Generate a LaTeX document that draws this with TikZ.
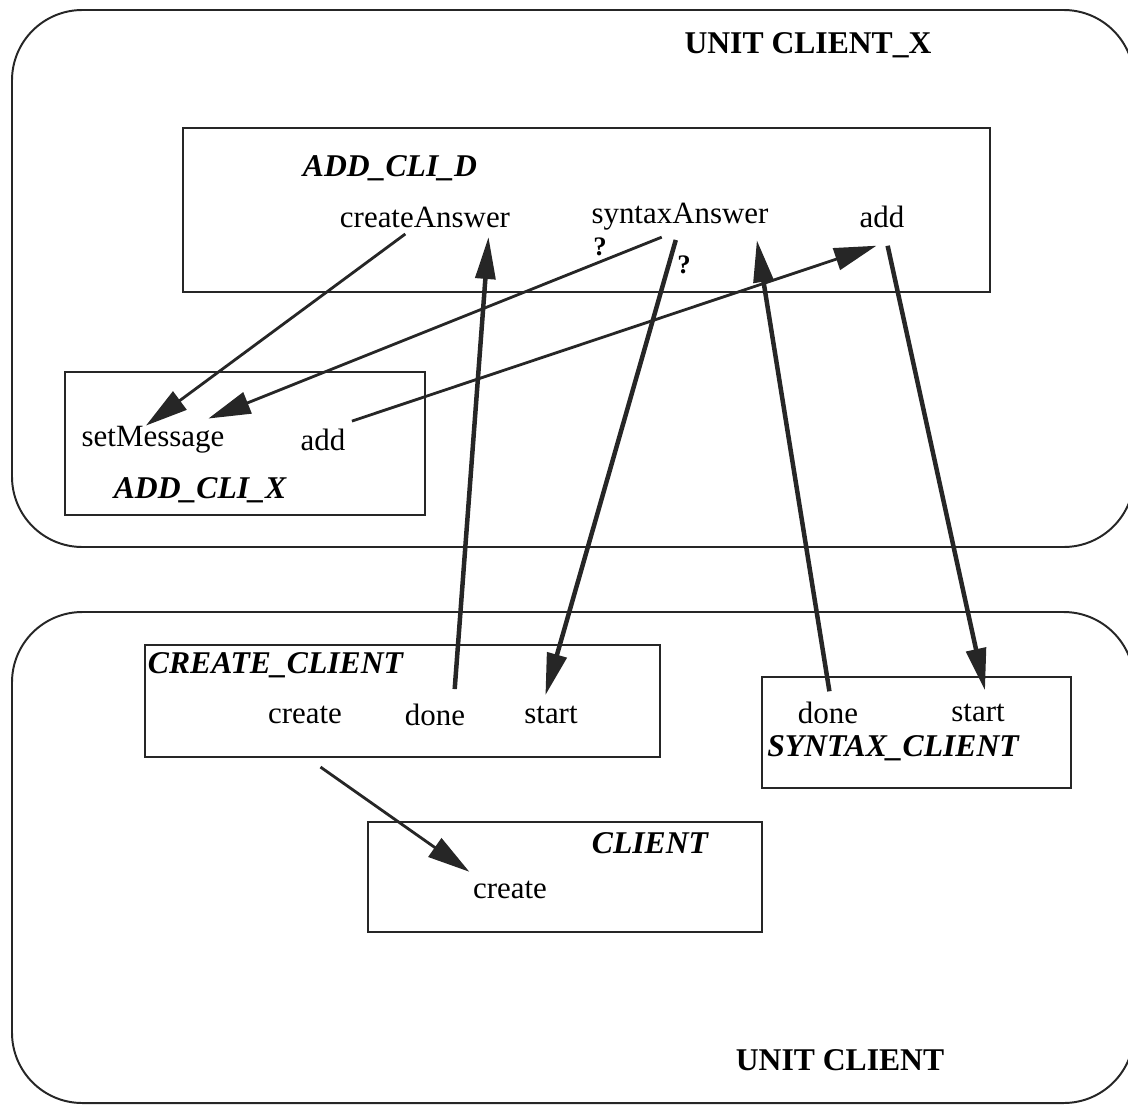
\documentclass[tikz,border=0pt]{standalone}
\usepackage{fontspec}
\setmainfont{Liberation Serif}
\usetikzlibrary{arrows.meta}

\tikzset{
	unit/.style={draw=black!85, line width=1.4pt, rounded corners=50},
	box/.style={draw=black!85, line width=1.3pt},
	port/.style={font=\fontsize{22}{25}\selectfont, inner sep=0.5pt},
	title/.style={font=\fontsize{22.5}{26}\selectfont\bfseries\itshape, inner sep=0.5pt},
	unitname/.style={font=\fontsize{22.5}{26}\selectfont\bfseries, inner sep=1pt},
	quest/.style={font=\fontsize{19}{22}\selectfont\bfseries, inner sep=0pt},
	msg/.style={draw=black!85, line width=2pt, -{Triangle[length=30pt, width=16pt]}},
	msgthick/.style={draw=black!85, line width=3.2pt, -{Triangle[length=30pt, width=14pt]}}
}

\begin{document}
\begin{tikzpicture}[x=0.025cm, y=-0.025cm]
			\useasboundingbox (0, 0) rectangle (1128, 1104);
			\begin{scope}
				\clip (0, 0) rectangle (1128, 1104);
				\draw[unit] (12, 10) rectangle (1134, 547);
				\draw[unit] (12, 612) rectangle (1134, 1103);
			\end{scope}
			\node[unitname](UX) at (808, 45){UNIT CLIENT\_X};
			\node[unitname](UC) at (840, 1060){UNIT CLIENT};
			\draw[box] (183, 128) rectangle (990, 292);
			\node[title](TD) at (390, 168){ADD\_CLI\_D};
			\node[port](dCrA) at (425, 217){createAnswer};
			\node[port](dSyn) at (680, 217){syntaxAnswer};
			\node[port](dAdd) at (882, 217){add};
			\draw[box] (65, 372) rectangle (425, 515);
			\node[port](xSet) at (153, 440){setMessage};
			\node[port](xAdd) at (323, 440){add};
			\node[title](TX) at (200, 490){ADD\_CLI\_X};
			\draw[box] (145, 645) rectangle (660, 757);
			\node[title, anchor=west](TC) at (147, 665){CREATE\_CLIENT};
			\node[port](cCre) at (305, 715){create};
			\node[port](cDone) at (435, 715){done};
			\node[port](cStart) at (551, 715){start};
			\draw[box] (762, 677) rectangle (1071, 788);
			\node[port](sDone) at (828, 713){done};
			\node[port](sStart) at (978, 713){start};
			\node[title](TS) at (893, 748){SYNTAX\_CLIENT};
			\draw[box] (368, 822) rectangle (762, 932);
			\node[title](TCl) at (650, 843){CLIENT};
			\node[port](clCre) at (510, 890){create};
			\draw[msg] ([xshift=-14pt, yshift=-4pt]dCrA.south) -- ([xshift=-5pt]xSet.north);
			\draw[msg] ([xshift=-13pt, yshift=-4pt]dSyn.south) -- ([xshift=-12pt, yshift=5pt]xSet.north east);
			\draw[msg] ([xshift=4pt, yshift=5pt]xAdd.north east) -- ([xshift=-4pt, yshift=-12pt]dAdd.south);
			\draw[msgthick] ([xshift=14pt, yshift=10pt]cDone.north) -- ([xshift=-16pt, yshift=-6pt]dCrA.south east);
			\draw[msgthick] ([xshift=-3pt, yshift=-6pt]dSyn.south) -- ([xshift=-4pt, yshift=7pt]cStart.north);
			\draw[msgthick] ([xshift=1pt, yshift=7pt]sDone.north) -- ([xshift=-9pt, yshift=-6pt]dSyn.south east);
			\draw[msgthick] ([xshift=4pt, yshift=-12pt]dAdd.south) -- ([xshift=5pt, yshift=9pt]sStart.north);
			\draw[msg] ([xshift=11pt, yshift=-30pt]cCre.south) -- ([xshift=-2pt, yshift=6pt]clCre.north west);
			\node[quest](Q1) at (600, 247){?};
			\node[quest](Q2) at (684, 265){?};
		\end{tikzpicture}
\end{document}
